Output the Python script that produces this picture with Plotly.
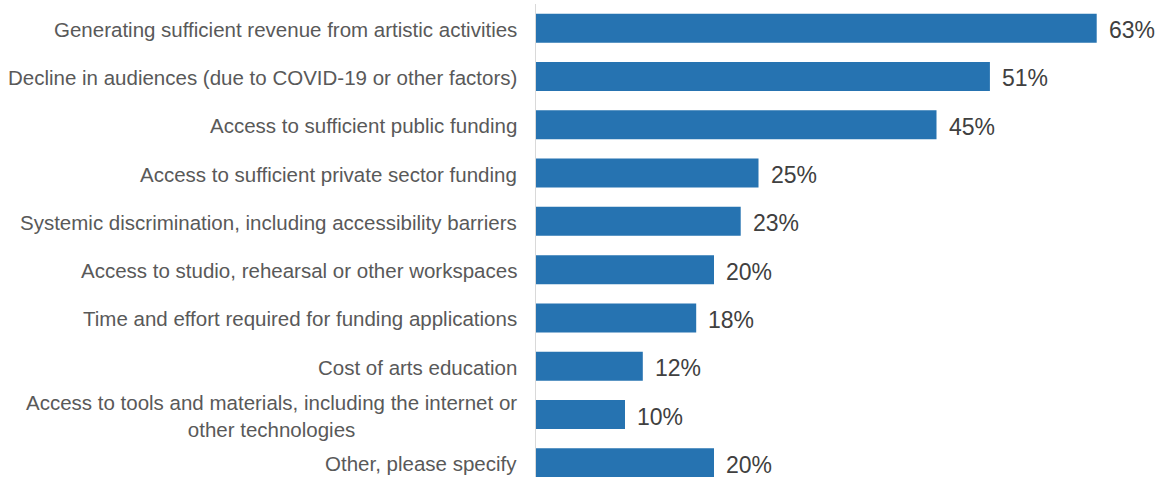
import plotly.graph_objects as go

# Survey responses: share of respondents citing each challenge
categories = [
    "Generating sufficient revenue from artistic activities",
    "Decline in audiences (due to COVID-19 or other factors)",
    "Access to sufficient public funding",
    "Access to sufficient private sector funding",
    "Systemic discrimination, including accessibility barriers",
    "Access to studio, rehearsal or other workspaces",
    "Time and effort required for funding applications",
    "Cost of arts education",
    "Access to tools and materials, including the internet or<br>other technologies",
    "Other, please specify",
]
values = [63, 51, 45, 25, 23, 20, 18, 12, 10, 20]

BAR_COLOR = "#2673B1"
FONT = "Liberation Sans, Arial, sans-serif"

fig = go.Figure(
    go.Bar(
        x=values,
        y=categories,
        orientation="h",
        width=0.6,
        marker=dict(color=BAR_COLOR, line=dict(width=0)),
        hoverinfo="skip",
    )
)

# Value labels to the right of each bar
for cat, v in zip(categories, values):
    fig.add_annotation(
        x=v, y=cat, xref="x", yref="y",
        text=f"{v}%", showarrow=False,
        xanchor="left", yanchor="middle", xshift=10, yshift=-2,
        font=dict(family=FONT, size=23, color="#404040"),
    )

# Category labels, centred line-by-line for wrapped text
for cat in categories:
    fig.add_annotation(
        x=0, y=cat, xref="paper", yref="y",
        text=cat, showarrow=False,
        xanchor="right", yanchor="middle", xshift=-17, yshift=-1,
        align="center",
        font=dict(family=FONT, size=20.5, color="#595959"),
    )

fig.update_layout(
    width=1164,
    height=477,
    margin=dict(l=536, r=0, t=4, b=0),
    paper_bgcolor="white",
    plot_bgcolor="white",
    showlegend=False,
    font=dict(family=FONT),
    xaxis=dict(
        range=[0, 70.56],
        visible=False,
        showgrid=False,
        zeroline=False,
    ),
    yaxis=dict(
        type="category",
        categoryorder="array",
        categoryarray=categories,
        range=[9.293, -0.5],
        showticklabels=False,
        showgrid=False,
        zeroline=False,
        showline=True,
        linecolor="#D9D9D9",
        linewidth=1,
        ticks="",
    ),
)

fig.write_html("out.html")
